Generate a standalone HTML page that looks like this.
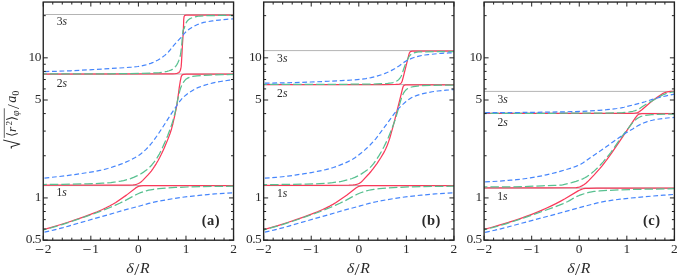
<!DOCTYPE html>
<html><head><meta charset="utf-8"><title>plot</title>
<style>
html,body{margin:0;padding:0;background:#fff;}
body{width:681px;height:277px;overflow:hidden;}
svg{display:block;}
text{font-family:"Liberation Serif","DejaVu Serif",serif;fill:#2a2a2a;}
.tk{font-size:13.4px;}
.it{font-style:italic;}
.lv{font-size:11.6px;font-style:italic;}
.pl{font-size:14.5px;font-weight:bold;}
.xl{font-size:14px;}
</style></head><body>
<svg width="681" height="277" viewBox="0 0 681 277">
<rect width="681" height="277" fill="#fff"/>
<defs>
<clipPath id="c0"><rect x="43.25" y="2.05" width="190.3" height="238.14999999999998"/></clipPath>
<clipPath id="c1"><rect x="263.65" y="2.05" width="190.3" height="238.14999999999998"/></clipPath>
<clipPath id="c2"><rect x="484.1" y="2.05" width="190.3" height="238.14999999999998"/></clipPath>
</defs>
<g>
<line x1="43.25" x2="233.55" y1="14.5" y2="14.5" stroke="#b4b4b4" stroke-width="1"/>
<line x1="43.25" x2="233.55" y1="74.0" y2="74.0" stroke="#b4b4b4" stroke-width="1"/>
<line x1="43.25" x2="233.55" y1="185.6" y2="185.6" stroke="#b4b4b4" stroke-width="1"/>
<path d="M43.30,229.60 L51.41,227.33 L59.20,225.02 L68.10,222.24 L75.81,219.69 L83.19,217.10 L91.09,214.16 L97.25,211.71 L102.48,209.45 L106.02,207.79 L109.52,206.03 L112.70,204.31 L115.81,202.49 L126.44,195.12 L135.71,187.91 L137.78,186.70 L138.61,186.36 L139.77,186.02 L140.96,185.86 L143.37,185.71 L154.19,185.63 L233.60,185.60" fill="none" stroke="#f93a5a" stroke-width="1.25" clip-path="url(#c0)" stroke-linejoin="round"/>
<path d="M43.30,185.20 L106.42,185.20 L128.96,185.09 L133.16,184.89 L134.95,184.61 L136.12,184.35 L137.27,183.98 L138.38,183.53 L139.46,182.96 L140.94,181.98 L142.53,180.61 L147.78,175.18 L149.57,173.14 L151.27,171.04 L152.86,168.87 L154.54,166.37 L156.30,163.56 L157.97,160.69 L159.69,157.54 L161.32,154.32 L162.87,151.05 L164.35,147.76 L168.04,138.87 L170.04,133.51 L171.51,128.94 L172.89,123.72 L174.57,116.38 L175.98,109.61 L176.99,103.99 L177.83,98.35 L179.17,88.21 L180.30,81.09 L181.15,76.94 L181.57,75.83 L182.10,75.05 L182.31,74.86 L182.80,74.60 L183.71,74.33 L186.69,74.23 L233.60,74.20" fill="none" stroke="#f93a5a" stroke-width="1.25" clip-path="url(#c0)" stroke-linejoin="round"/>
<path d="M43.30,74.00 L158.35,73.98 L172.76,73.78 L175.49,73.54 L176.95,73.31 L177.52,73.16 L178.11,72.92 L178.91,72.44 L179.31,72.08 L179.82,71.36 L180.23,70.49 L180.59,69.36 L180.92,67.89 L181.16,66.39 L181.48,62.51 L182.47,44.20 L183.32,31.61 L183.74,19.30 L184.02,16.92 L184.22,16.30 L184.54,15.74 L184.73,15.55 L185.19,15.33 L186.13,15.13 L189.42,15.04 L233.60,15.00" fill="none" stroke="#f93a5a" stroke-width="1.25" clip-path="url(#c0)" stroke-linejoin="round"/>
<path d="M43.30,230.00 L49.68,228.23 L56.04,226.37 L62.08,224.53 L68.10,222.62 L76.09,219.95 L86.34,216.43 L93.15,214.03 L98.80,211.95 L104.12,209.87 L109.98,207.48 L114.96,205.35 L119.63,203.24 L124.77,200.76 L131.90,196.86 L136.45,194.49 L138.62,193.46 L140.57,192.69 L143.69,191.59 L146.30,190.80 L148.63,190.19 L150.69,189.77 L153.65,189.27 L159.03,188.57 L166.52,187.98 L175.54,187.47 L187.27,187.00 L199.30,186.67 L218.86,186.33 L233.60,186.20" fill="none" stroke="#58c090" stroke-width="1.25" stroke-dasharray="8.5 3.0" stroke-dashoffset="5.0" clip-path="url(#c0)" stroke-linejoin="round"/>
<path d="M43.30,184.50 L62.83,184.34 L87.45,183.86 L94.96,183.59 L102.46,183.22 L106.65,182.93 L110.84,182.52 L115.62,181.94 L120.66,181.19 L123.61,180.58 L127.09,179.68 L130.53,178.57 L134.17,177.16 L137.45,175.65 L140.62,173.95 L143.95,171.87 L146.82,169.72 L149.55,167.32 L150.82,166.04 L152.02,164.72 L154.45,161.68 L157.02,157.93 L159.33,154.07 L161.36,150.05 L164.84,142.38 L167.74,135.45 L170.49,128.14 L172.59,121.87 L173.68,118.13 L174.79,113.76 L176.17,107.60 L177.63,100.24 L178.98,94.05 L179.77,90.83 L180.54,88.27 L181.53,85.74 L182.62,83.55 L183.73,81.82 L185.09,80.15 L186.21,79.07 L187.17,78.39 L188.17,77.88 L189.55,77.32 L191.02,76.86 L192.52,76.49 L196.96,75.85 L202.66,75.33 L209.27,75.01 L222.17,74.63 L233.60,74.50" fill="none" stroke="#58c090" stroke-width="1.25" stroke-dasharray="8.5 3.0" stroke-dashoffset="5.0" clip-path="url(#c0)" stroke-linejoin="round"/>
<path d="M43.30,73.90 L109.73,73.76 L128.37,73.64 L142.49,73.45 L152.40,73.04 L156.30,72.82 L159.60,72.54 L162.29,72.22 L164.67,71.84 L167.01,71.33 L169.10,70.76 L170.84,70.15 L172.41,69.40 L173.36,68.78 L174.47,67.75 L175.68,66.31 L176.86,64.59 L177.86,62.73 L178.82,60.49 L179.49,58.51 L180.07,56.48 L180.53,54.42 L180.86,52.35 L181.23,49.37 L181.89,43.08 L182.54,34.18 L182.80,32.14 L183.15,30.20 L183.35,29.68 L183.92,28.94 L184.29,28.13 L185.35,24.65 L185.91,23.28 L186.49,22.20 L187.18,21.15 L187.75,20.44 L188.36,19.84 L189.27,19.15 L190.31,18.52 L191.43,17.97 L192.87,17.41 L194.30,17.02 L196.34,16.56 L198.14,16.25 L199.94,16.01 L204.14,15.77 L210.45,15.58 L224.28,15.36 L233.60,15.30" fill="none" stroke="#58c090" stroke-width="1.25" stroke-dasharray="8.5 3.0" stroke-dashoffset="5.0" clip-path="url(#c0)" stroke-linejoin="round"/>
<path d="M43.30,232.40 L53.26,230.12 L63.16,227.60 L68.65,226.05 L81.34,222.33 L103.32,216.15 L123.22,210.33 L139.78,205.96 L148.75,203.44 L152.25,202.59 L156.36,201.70 L164.92,200.05 L174.10,198.47 L181.24,197.43 L190.48,196.29 L201.24,195.15 L214.71,193.94 L223.70,193.30 L233.60,192.80" fill="none" stroke="#4686fc" stroke-width="1.2" stroke-dasharray="4.8 2.7" stroke-dashoffset="6.3" clip-path="url(#c0)" stroke-linejoin="round"/>
<path d="M43.30,178.20 L58.84,176.54 L67.19,175.53 L74.63,174.54 L81.47,173.55 L90.68,172.11 L96.31,171.13 L101.02,170.19 L104.23,169.46 L107.71,168.51 L114.31,166.44 L118.88,164.92 L122.26,163.67 L125.31,162.42 L128.32,161.05 L131.56,159.45 L134.74,157.75 L137.35,156.24 L139.37,154.94 L141.30,153.52 L143.60,151.58 L146.01,149.33 L148.32,146.95 L150.71,144.25 L153.87,140.24 L157.69,134.85 L161.66,128.83 L171.21,113.89 L174.71,108.64 L179.50,101.69 L180.95,99.78 L182.54,98.02 L184.30,96.37 L186.63,94.44 L188.55,93.01 L190.55,91.67 L193.38,89.97 L195.76,88.66 L197.38,87.87 L199.31,87.07 L201.57,86.24 L204.15,85.40 L207.89,84.27 L210.79,83.48 L213.13,82.92 L216.36,82.25 L220.50,81.51 L224.96,80.81 L229.42,80.19 L233.60,79.70" fill="none" stroke="#4686fc" stroke-width="1.2" stroke-dasharray="4.8 2.7" stroke-dashoffset="6.3" clip-path="url(#c0)" stroke-linejoin="round"/>
<path d="M43.30,71.60 L58.93,71.23 L70.34,70.78 L92.26,69.64 L123.77,67.76 L131.57,67.16 L137.86,66.50 L141.70,65.90 L145.81,64.90 L148.40,64.15 L150.68,63.36 L153.19,62.35 L155.64,61.21 L158.03,59.92 L160.34,58.51 L162.58,56.99 L164.77,55.36 L166.80,53.60 L168.25,52.11 L169.61,50.51 L173.57,45.55 L181.12,37.37 L184.21,33.67 L185.22,32.57 L187.23,30.76 L189.38,29.09 L191.88,27.45 L194.51,25.96 L197.51,24.56 L200.89,23.30 L203.78,22.44 L207.01,21.75 L212.36,20.92 L219.22,20.06 L226.40,19.35 L233.60,18.80" fill="none" stroke="#4686fc" stroke-width="1.2" stroke-dasharray="4.8 2.7" stroke-dashoffset="6.3" clip-path="url(#c0)" stroke-linejoin="round"/>
<path d="M43.25,240.2v-4.5M43.25,2.05v4.5M52.77,240.2v-2.5M52.77,2.05v2.5M62.28,240.2v-2.5M62.28,2.05v2.5M71.80,240.2v-2.5M71.80,2.05v2.5M81.31,240.2v-2.5M81.31,2.05v2.5M90.83,240.2v-4.5M90.83,2.05v4.5M100.34,240.2v-2.5M100.34,2.05v2.5M109.86,240.2v-2.5M109.86,2.05v2.5M119.37,240.2v-2.5M119.37,2.05v2.5M128.88,240.2v-2.5M128.88,2.05v2.5M138.40,240.2v-4.5M138.40,2.05v4.5M147.92,240.2v-2.5M147.92,2.05v2.5M157.43,240.2v-2.5M157.43,2.05v2.5M166.94,240.2v-2.5M166.94,2.05v2.5M176.46,240.2v-2.5M176.46,2.05v2.5M185.97,240.2v-4.5M185.97,2.05v4.5M195.49,240.2v-2.5M195.49,2.05v2.5M205.01,240.2v-2.5M205.01,2.05v2.5M214.52,240.2v-2.5M214.52,2.05v2.5M224.04,240.2v-2.5M224.04,2.05v2.5M233.55,240.2v-4.5M233.55,2.05v4.5M43.25,240.10h4.5M233.55,240.10h-4.5M43.25,229.01h2.5M233.55,229.01h-2.5M43.25,219.63h2.5M233.55,219.63h-2.5M43.25,211.50h2.5M233.55,211.50h-2.5M43.25,204.34h2.5M233.55,204.34h-2.5M43.25,197.93h4.5M233.55,197.93h-4.5M43.25,155.75h2.5M233.55,155.75h-2.5M43.25,131.08h2.5M233.55,131.08h-2.5M43.25,113.58h2.5M233.55,113.58h-2.5M43.25,100.00h4.5M233.55,100.00h-4.5M43.25,88.91h2.5M233.55,88.91h-2.5M43.25,79.53h2.5M233.55,79.53h-2.5M43.25,71.40h2.5M233.55,71.40h-2.5M43.25,64.24h2.5M233.55,64.24h-2.5M43.25,57.83h4.5M233.55,57.83h-4.5M43.25,15.65h2.5M233.55,15.65h-2.5" stroke="#222" stroke-width="1.0" fill="none"/>
<rect x="43.25" y="2.05" width="190.3" height="238.14999999999998" fill="none" stroke="#222" stroke-width="1.35"/>
<text class="tk" x="43.2" y="253.3" text-anchor="middle"><tspan font-size="16" dy="1.9">−</tspan><tspan dy="-1.9" dx="0.7">2</tspan></text>
<text class="tk" x="90.8" y="253.3" text-anchor="middle"><tspan font-size="16" dy="1.9">−</tspan><tspan dy="-1.9" dx="0.7">1</tspan></text>
<text class="tk" x="138.4" y="253.3" text-anchor="middle">0</text>
<text class="tk" x="186.0" y="253.3" text-anchor="middle">1</text>
<text class="tk" x="233.6" y="253.3" text-anchor="middle">2</text>
<text class="tk" x="40.9" y="242.9" text-anchor="end" style="letter-spacing:-0.55px">0.5</text>
<text class="tk" x="40.9" y="200.7" text-anchor="end" style="letter-spacing:-0.55px">1</text>
<text class="tk" x="40.9" y="102.8" text-anchor="end" style="letter-spacing:-0.55px">5</text>
<text class="tk" x="40.9" y="60.6" text-anchor="end" style="letter-spacing:-0.55px">10</text>
<text class="xl" transform="translate(138.2,273.4) scale(1.13,1)" text-anchor="middle" style="letter-spacing:0.5px"><tspan class="it">δ</tspan><tspan font-size="16.5" dy="1.6">/</tspan><tspan class="it" dy="-1.6">R</tspan></text>
<text class="lv" x="56.7" y="25.4"><tspan style="font-style:normal">3</tspan>s</text>
<text class="lv" x="56.7" y="86.5"><tspan style="font-style:normal">2</tspan>s</text>
<text class="lv" x="56.5" y="196.4"><tspan style="font-style:normal">1</tspan>s</text>
<text class="pl" x="211.0" y="225.1" text-anchor="middle" style="letter-spacing:0.5px">(a)</text>
</g>
<g>
<line x1="263.65" x2="453.95" y1="50.6" y2="50.6" stroke="#b4b4b4" stroke-width="1"/>
<line x1="263.65" x2="453.95" y1="84.6" y2="84.6" stroke="#b4b4b4" stroke-width="1"/>
<line x1="263.65" x2="453.95" y1="185.6" y2="185.6" stroke="#b4b4b4" stroke-width="1"/>
<path d="M263.60,229.60 L271.70,227.33 L279.48,225.03 L288.37,222.25 L296.08,219.71 L303.44,217.11 L311.34,214.18 L317.49,211.73 L322.72,209.47 L326.26,207.82 L329.76,206.07 L332.94,204.35 L336.04,202.53 L346.66,195.17 L355.92,187.97 L357.98,186.74 L358.81,186.40 L359.68,186.17 L361.46,185.89 L363.26,185.72 L370.76,185.65 L454.00,185.60" fill="none" stroke="#f93a5a" stroke-width="1.25" clip-path="url(#c1)" stroke-linejoin="round"/>
<path d="M263.60,185.30 L326.38,185.30 L348.91,185.19 L353.11,184.99 L355.20,184.71 L356.37,184.47 L357.24,184.20 L358.36,183.77 L359.18,183.37 L360.21,182.76 L360.92,182.25 L361.82,181.48 L362.89,180.41 L369.02,173.74 L371.17,171.23 L373.04,168.88 L377.11,163.29 L380.59,158.03 L383.68,152.88 L384.95,150.49 L385.99,148.33 L387.27,145.28 L388.52,141.90 L389.65,138.48 L390.93,134.16 L393.07,126.34 L395.33,117.61 L399.57,100.71 L402.40,89.03 L403.10,86.72 L403.36,86.20 L403.73,85.68 L404.18,85.31 L405.32,84.97 L405.94,84.90 L408.32,84.85 L414.35,84.80 L454.00,84.80" fill="none" stroke="#f93a5a" stroke-width="1.25" clip-path="url(#c1)" stroke-linejoin="round"/>
<path d="M263.60,84.50 L382.99,84.50 L395.63,84.39 L397.76,84.30 L399.22,84.16 L400.09,83.82 L400.59,83.51 L401.03,83.12 L401.42,82.63 L401.74,82.11 L402.19,81.03 L403.52,76.06 L408.62,55.63 L409.20,53.58 L409.52,52.75 L410.02,51.98 L410.47,51.57 L411.27,51.28 L412.19,51.12 L416.09,51.02 L454.00,51.00" fill="none" stroke="#f93a5a" stroke-width="1.25" clip-path="url(#c1)" stroke-linejoin="round"/>
<path d="M263.60,230.00 L276.32,226.38 L282.36,224.54 L288.37,222.62 L296.36,219.97 L306.59,216.45 L313.40,214.04 L319.04,211.97 L324.36,209.90 L330.21,207.51 L335.19,205.38 L339.85,203.28 L344.98,200.81 L352.11,196.91 L356.65,194.54 L358.82,193.50 L360.76,192.73 L363.88,191.64 L366.49,190.84 L368.82,190.25 L370.88,189.83 L373.83,189.34 L379.52,188.63 L388.20,187.93 L397.51,187.39 L408.32,186.97 L420.04,186.65 L439.27,186.33 L454.00,186.20" fill="none" stroke="#58c090" stroke-width="1.25" stroke-dasharray="8.5 3.0" stroke-dashoffset="5.0" clip-path="url(#c1)" stroke-linejoin="round"/>
<path d="M263.60,184.60 L282.54,184.48 L306.28,184.11 L319.80,183.65 L324.60,183.39 L328.50,183.08 L332.40,182.67 L336.58,182.13 L341.32,181.40 L343.37,180.97 L348.90,179.49 L352.06,178.49 L354.85,177.39 L358.10,175.82 L359.94,174.82 L361.49,173.89 L364.99,171.53 L367.16,169.91 L368.82,168.58 L370.19,167.39 L371.46,166.15 L373.59,163.67 L375.72,160.74 L379.17,155.41 L381.29,151.77 L383.83,147.00 L386.22,142.14 L388.34,137.49 L390.17,133.04 L393.85,123.50 L395.25,119.54 L396.73,114.65 L400.54,101.01 L401.55,97.88 L402.78,94.75 L403.72,92.79 L404.66,91.32 L405.81,90.07 L406.75,89.27 L407.79,88.54 L408.89,87.93 L409.98,87.47 L411.65,87.00 L413.40,86.60 L415.21,86.28 L417.34,86.01 L422.73,85.65 L429.95,85.38 L444.08,85.09 L454.00,85.00" fill="none" stroke="#58c090" stroke-width="1.25" stroke-dasharray="8.5 3.0" stroke-dashoffset="5.0" clip-path="url(#c1)" stroke-linejoin="round"/>
<path d="M263.60,84.40 L341.74,84.30 L370.00,84.10 L376.91,83.95 L383.53,83.67 L387.76,83.35 L391.59,82.87 L393.05,82.53 L394.52,82.03 L395.93,81.40 L397.24,80.69 L397.95,80.22 L398.62,79.63 L399.44,78.71 L400.36,77.51 L401.18,76.23 L401.80,74.89 L402.29,73.48 L403.33,70.00 L404.83,65.74 L406.16,62.39 L407.42,59.66 L408.68,57.24 L409.68,55.77 L410.28,55.08 L410.93,54.44 L411.64,53.91 L412.42,53.45 L413.54,52.99 L415.86,52.31 L417.05,52.08 L418.53,51.97 L433.86,51.61 L454.00,51.50" fill="none" stroke="#58c090" stroke-width="1.25" stroke-dasharray="8.5 3.0" stroke-dashoffset="5.0" clip-path="url(#c1)" stroke-linejoin="round"/>
<path d="M263.60,232.40 L273.57,230.11 L283.47,227.60 L288.96,226.05 L301.66,222.33 L323.65,216.14 L343.56,210.32 L360.13,205.95 L369.11,203.42 L372.32,202.65 L376.43,201.75 L385.58,199.98 L394.47,198.43 L401.31,197.42 L410.26,196.31 L421.32,195.14 L435.09,193.91 L444.09,193.28 L454.00,192.80" fill="none" stroke="#4686fc" stroke-width="1.2" stroke-dasharray="4.8 2.7" stroke-dashoffset="6.3" clip-path="url(#c1)" stroke-linejoin="round"/>
<path d="M263.60,178.30 L269.60,177.90 L275.90,177.38 L282.47,176.74 L287.85,176.10 L295.00,175.12 L304.51,173.68 L311.34,172.54 L317.25,171.45 L321.96,170.48 L325.77,169.61 L329.55,168.62 L333.30,167.51 L336.43,166.45 L339.81,165.18 L344.26,163.36 L347.57,161.91 L350.26,160.56 L352.60,159.22 L355.39,157.42 L358.08,155.52 L361.16,153.09 L364.60,150.18 L367.50,147.55 L370.07,145.03 L373.77,141.07 L375.53,139.02 L377.03,137.15 L386.90,123.87 L392.49,116.04 L394.83,112.91 L396.53,110.80 L399.14,107.89 L401.50,105.57 L406.05,101.54 L407.72,100.20 L409.44,98.96 L410.94,98.02 L412.23,97.33 L414.10,96.49 L416.34,95.63 L418.66,94.86 L421.29,94.10 L424.20,93.35 L427.13,92.69 L432.17,91.76 L437.82,91.00 L446.20,90.18 L454.00,89.60" fill="none" stroke="#4686fc" stroke-width="1.2" stroke-dasharray="4.8 2.7" stroke-dashoffset="6.3" clip-path="url(#c1)" stroke-linejoin="round"/>
<path d="M263.60,83.20 L280.14,82.92 L300.89,82.37 L310.81,82.02 L328.55,81.25 L341.17,80.64 L354.09,79.88 L360.68,79.33 L365.75,78.65 L371.07,77.68 L375.45,76.59 L382.06,74.51 L384.61,73.58 L387.11,72.56 L391.20,70.64 L394.61,68.75 L399.42,65.65 L404.31,62.11 L406.89,60.60 L409.05,59.51 L410.98,58.65 L413.22,57.80 L415.80,56.97 L419.00,56.13 L422.24,55.43 L424.91,55.00 L428.19,54.60 L437.78,53.65 L441.98,53.31 L448.59,52.96 L454.00,52.80" fill="none" stroke="#4686fc" stroke-width="1.2" stroke-dasharray="4.8 2.7" stroke-dashoffset="6.3" clip-path="url(#c1)" stroke-linejoin="round"/>
<path d="M263.65,240.2v-4.5M263.65,2.05v4.5M273.16,240.2v-2.5M273.16,2.05v2.5M282.68,240.2v-2.5M282.68,2.05v2.5M292.19,240.2v-2.5M292.19,2.05v2.5M301.71,240.2v-2.5M301.71,2.05v2.5M311.22,240.2v-4.5M311.22,2.05v4.5M320.74,240.2v-2.5M320.74,2.05v2.5M330.25,240.2v-2.5M330.25,2.05v2.5M339.77,240.2v-2.5M339.77,2.05v2.5M349.28,240.2v-2.5M349.28,2.05v2.5M358.80,240.2v-4.5M358.80,2.05v4.5M368.31,240.2v-2.5M368.31,2.05v2.5M377.83,240.2v-2.5M377.83,2.05v2.5M387.34,240.2v-2.5M387.34,2.05v2.5M396.86,240.2v-2.5M396.86,2.05v2.5M406.38,240.2v-4.5M406.38,2.05v4.5M415.89,240.2v-2.5M415.89,2.05v2.5M425.40,240.2v-2.5M425.40,2.05v2.5M434.92,240.2v-2.5M434.92,2.05v2.5M444.44,240.2v-2.5M444.44,2.05v2.5M453.95,240.2v-4.5M453.95,2.05v4.5M263.65,240.10h4.5M453.95,240.10h-4.5M263.65,229.01h2.5M453.95,229.01h-2.5M263.65,219.63h2.5M453.95,219.63h-2.5M263.65,211.50h2.5M453.95,211.50h-2.5M263.65,204.34h2.5M453.95,204.34h-2.5M263.65,197.93h4.5M453.95,197.93h-4.5M263.65,155.75h2.5M453.95,155.75h-2.5M263.65,131.08h2.5M453.95,131.08h-2.5M263.65,113.58h2.5M453.95,113.58h-2.5M263.65,100.00h4.5M453.95,100.00h-4.5M263.65,88.91h2.5M453.95,88.91h-2.5M263.65,79.53h2.5M453.95,79.53h-2.5M263.65,71.40h2.5M453.95,71.40h-2.5M263.65,64.24h2.5M453.95,64.24h-2.5M263.65,57.83h4.5M453.95,57.83h-4.5M263.65,15.65h2.5M453.95,15.65h-2.5" stroke="#222" stroke-width="1.0" fill="none"/>
<rect x="263.65" y="2.05" width="190.3" height="238.14999999999998" fill="none" stroke="#222" stroke-width="1.35"/>
<text class="tk" x="263.6" y="253.3" text-anchor="middle"><tspan font-size="16" dy="1.9">−</tspan><tspan dy="-1.9" dx="0.7">2</tspan></text>
<text class="tk" x="311.2" y="253.3" text-anchor="middle"><tspan font-size="16" dy="1.9">−</tspan><tspan dy="-1.9" dx="0.7">1</tspan></text>
<text class="tk" x="358.8" y="253.3" text-anchor="middle">0</text>
<text class="tk" x="406.4" y="253.3" text-anchor="middle">1</text>
<text class="tk" x="453.9" y="253.3" text-anchor="middle">2</text>
<text class="tk" x="261.2" y="242.9" text-anchor="end" style="letter-spacing:-0.55px">0.5</text>
<text class="tk" x="261.2" y="200.7" text-anchor="end" style="letter-spacing:-0.55px">1</text>
<text class="tk" x="261.2" y="102.8" text-anchor="end" style="letter-spacing:-0.55px">5</text>
<text class="tk" x="261.2" y="60.6" text-anchor="end" style="letter-spacing:-0.55px">10</text>
<text class="xl" transform="translate(358.6,273.4) scale(1.13,1)" text-anchor="middle" style="letter-spacing:0.5px"><tspan class="it">δ</tspan><tspan font-size="16.5" dy="1.6">/</tspan><tspan class="it" dy="-1.6">R</tspan></text>
<text class="lv" x="277.1" y="62.3"><tspan style="font-style:normal">3</tspan>s</text>
<text class="lv" x="277.1" y="96.6"><tspan style="font-style:normal">2</tspan>s</text>
<text class="lv" x="276.9" y="197.0"><tspan style="font-style:normal">1</tspan>s</text>
<text class="pl" x="431.3" y="225.1" text-anchor="middle" style="letter-spacing:0.5px">(b)</text>
</g>
<g>
<line x1="484.1" x2="674.4000000000001" y1="91.4" y2="91.4" stroke="#b4b4b4" stroke-width="1"/>
<line x1="484.1" x2="674.4000000000001" y1="113.4" y2="113.4" stroke="#b4b4b4" stroke-width="1"/>
<line x1="484.1" x2="674.4000000000001" y1="188.1" y2="188.1" stroke="#b4b4b4" stroke-width="1"/>
<path d="M483.90,229.50 L491.15,227.52 L498.38,225.45 L507.02,222.84 L514.19,220.57 L520.17,218.57 L526.12,216.45 L531.76,214.33 L537.35,212.10 L542.06,210.12 L546.72,208.05 L551.35,205.87 L555.93,203.59 L560.74,201.09 L564.96,198.80 L578.14,190.90 L579.47,190.23 L581.41,189.41 L582.56,188.98 L583.42,188.73 L585.48,188.47 L588.49,188.26 L596.92,188.14 L674.50,188.10" fill="none" stroke="#f93a5a" stroke-width="1.25" clip-path="url(#c2)" stroke-linejoin="round"/>
<path d="M483.90,187.90 L543.72,187.90 L573.20,187.75 L576.18,187.69 L576.78,187.62 L578.83,187.11 L579.96,186.72 L581.88,185.84 L584.22,184.46 L585.90,183.23 L587.47,181.84 L589.39,179.92 L593.94,175.11 L599.77,168.61 L602.09,165.85 L606.67,159.90 L611.57,153.05 L622.81,136.71 L635.53,117.71 L636.79,116.03 L637.59,115.13 L638.03,114.72 L638.79,114.23 L639.35,114.01 L640.52,113.80 L641.73,113.70 L674.50,113.70" fill="none" stroke="#f93a5a" stroke-width="1.25" clip-path="url(#c2)" stroke-linejoin="round"/>
<path d="M483.90,113.40 L621.54,113.40 L632.95,113.30 L634.75,113.17 L636.54,112.90 L637.69,112.57 L638.51,112.18 L639.53,111.55 L641.90,109.70 L649.68,103.07 L652.72,100.62 L657.57,97.07 L662.07,94.03 L663.09,93.40 L663.89,93.01 L665.57,92.35 L666.73,92.00 L667.61,91.81 L670.29,91.48 L674.50,91.40" fill="none" stroke="#f93a5a" stroke-width="1.25" clip-path="url(#c2)" stroke-linejoin="round"/>
<path d="M483.90,229.90 L495.24,226.91 L501.02,225.27 L505.91,223.79 L512.21,221.78 L520.49,219.04 L533.84,214.42 L554.50,207.01 L558.72,205.42 L562.62,203.85 L565.38,202.66 L567.83,201.50 L569.42,200.65 L572.23,198.91 L574.34,197.76 L577.04,196.41 L579.24,195.46 L581.49,194.62 L584.06,193.77 L587.82,192.67 L590.15,192.07 L591.62,191.80 L594.00,191.48 L599.69,190.96 L607.80,190.44 L618.91,189.91 L628.82,189.58 L641.14,189.28 L674.50,188.70" fill="none" stroke="#58c090" stroke-width="1.25" stroke-dasharray="8.5 3.0" stroke-dashoffset="5.0" clip-path="url(#c2)" stroke-linejoin="round"/>
<path d="M483.90,187.00 L501.94,186.92 L522.07,186.66 L528.38,186.45 L542.19,185.82 L554.53,185.47 L559.91,185.21 L561.10,185.08 L562.57,184.80 L571.66,182.65 L575.99,181.40 L579.96,180.00 L582.75,178.85 L584.91,177.81 L586.97,176.61 L588.96,175.23 L592.06,172.83 L594.34,170.88 L597.62,167.78 L600.34,164.97 L602.95,162.06 L605.67,158.86 L608.32,155.58 L610.90,152.26 L613.91,148.13 L619.34,140.18 L621.59,136.99 L624.82,132.65 L630.33,125.51 L631.66,123.88 L634.30,120.94 L635.38,119.89 L636.53,118.98 L638.03,118.00 L639.36,117.23 L640.47,116.69 L641.60,116.24 L642.45,115.98 L643.87,115.68 L647.72,115.07 L651.66,114.68 L657.66,114.42 L666.36,114.18 L674.50,114.10" fill="none" stroke="#58c090" stroke-width="1.25" stroke-dasharray="8.5 3.0" stroke-dashoffset="5.0" clip-path="url(#c2)" stroke-linejoin="round"/>
<path d="M483.90,113.30 L552.76,113.25 L595.16,113.13 L616.21,112.89 L622.51,112.66 L626.12,112.35 L629.41,111.90 L632.94,111.27 L635.28,110.62 L637.55,109.77 L638.63,109.29 L639.40,108.85 L642.54,106.48 L645.34,104.73 L653.73,100.00 L659.45,96.59 L661.83,95.33 L663.19,94.71 L664.85,94.05 L666.56,93.45 L668.29,92.91 L669.75,92.55 L671.51,92.21 L674.50,91.80" fill="none" stroke="#58c090" stroke-width="1.25" stroke-dasharray="8.5 3.0" stroke-dashoffset="5.0" clip-path="url(#c2)" stroke-linejoin="round"/>
<path d="M483.90,232.60 L495.08,230.18 L505.30,227.69 L521.27,223.34 L560.80,212.79 L584.89,206.18 L596.53,203.10 L600.33,202.21 L605.95,201.20 L612.49,200.20 L620.26,199.19 L628.03,198.30 L637.61,197.37 L652.00,196.10 L663.69,195.17 L674.50,194.40" fill="none" stroke="#4686fc" stroke-width="1.2" stroke-dasharray="4.8 2.7" stroke-dashoffset="6.3" clip-path="url(#c2)" stroke-linejoin="round"/>
<path d="M483.90,182.00 L497.12,181.26 L510.92,180.21 L516.61,179.67 L521.98,179.08 L526.16,178.53 L530.32,177.90 L535.67,176.98 L541.87,175.79 L546.28,174.86 L550.68,173.84 L555.64,172.57 L560.86,171.13 L568.09,168.99 L572.43,167.61 L575.84,166.38 L578.59,165.25 L580.72,164.24 L582.77,163.04 L584.76,161.68 L589.91,157.91 L600.88,150.51 L612.89,141.96 L625.77,133.08 L628.05,131.63 L632.74,128.92 L637.35,126.06 L640.53,124.38 L643.54,122.99 L646.63,121.83 L650.09,120.78 L653.60,119.96 L657.46,119.27 L664.60,118.29 L669.69,117.74 L674.50,117.40" fill="none" stroke="#4686fc" stroke-width="1.2" stroke-dasharray="4.8 2.7" stroke-dashoffset="6.3" clip-path="url(#c2)" stroke-linejoin="round"/>
<path d="M483.90,112.70 L504.06,112.62 L528.72,112.41 L548.28,112.12 L570.53,111.68 L580.76,111.37 L588.27,111.03 L599.08,110.33 L606.57,109.71 L611.96,109.14 L616.74,108.52 L621.19,107.81 L624.13,107.22 L642.21,102.57 L645.09,101.71 L652.24,99.38 L658.33,97.71 L662.13,96.76 L666.23,95.84 L670.36,94.98 L674.50,94.20" fill="none" stroke="#4686fc" stroke-width="1.2" stroke-dasharray="4.8 2.7" stroke-dashoffset="6.3" clip-path="url(#c2)" stroke-linejoin="round"/>
<path d="M484.10,240.2v-4.5M484.10,2.05v4.5M493.62,240.2v-2.5M493.62,2.05v2.5M503.13,240.2v-2.5M503.13,2.05v2.5M512.64,240.2v-2.5M512.64,2.05v2.5M522.16,240.2v-2.5M522.16,2.05v2.5M531.68,240.2v-4.5M531.68,2.05v4.5M541.19,240.2v-2.5M541.19,2.05v2.5M550.71,240.2v-2.5M550.71,2.05v2.5M560.22,240.2v-2.5M560.22,2.05v2.5M569.74,240.2v-2.5M569.74,2.05v2.5M579.25,240.2v-4.5M579.25,2.05v4.5M588.76,240.2v-2.5M588.76,2.05v2.5M598.28,240.2v-2.5M598.28,2.05v2.5M607.80,240.2v-2.5M607.80,2.05v2.5M617.31,240.2v-2.5M617.31,2.05v2.5M626.83,240.2v-4.5M626.83,2.05v4.5M636.34,240.2v-2.5M636.34,2.05v2.5M645.86,240.2v-2.5M645.86,2.05v2.5M655.37,240.2v-2.5M655.37,2.05v2.5M664.88,240.2v-2.5M664.88,2.05v2.5M674.40,240.2v-4.5M674.40,2.05v4.5M484.1,240.10h4.5M674.4000000000001,240.10h-4.5M484.1,229.01h2.5M674.4000000000001,229.01h-2.5M484.1,219.63h2.5M674.4000000000001,219.63h-2.5M484.1,211.50h2.5M674.4000000000001,211.50h-2.5M484.1,204.34h2.5M674.4000000000001,204.34h-2.5M484.1,197.93h4.5M674.4000000000001,197.93h-4.5M484.1,155.75h2.5M674.4000000000001,155.75h-2.5M484.1,131.08h2.5M674.4000000000001,131.08h-2.5M484.1,113.58h2.5M674.4000000000001,113.58h-2.5M484.1,100.00h4.5M674.4000000000001,100.00h-4.5M484.1,88.91h2.5M674.4000000000001,88.91h-2.5M484.1,79.53h2.5M674.4000000000001,79.53h-2.5M484.1,71.40h2.5M674.4000000000001,71.40h-2.5M484.1,64.24h2.5M674.4000000000001,64.24h-2.5M484.1,57.83h4.5M674.4000000000001,57.83h-4.5M484.1,15.65h2.5M674.4000000000001,15.65h-2.5" stroke="#222" stroke-width="1.0" fill="none"/>
<rect x="484.1" y="2.05" width="190.3" height="238.14999999999998" fill="none" stroke="#222" stroke-width="1.35"/>
<text class="tk" x="484.1" y="253.3" text-anchor="middle"><tspan font-size="16" dy="1.9">−</tspan><tspan dy="-1.9" dx="0.7">2</tspan></text>
<text class="tk" x="531.7" y="253.3" text-anchor="middle"><tspan font-size="16" dy="1.9">−</tspan><tspan dy="-1.9" dx="0.7">1</tspan></text>
<text class="tk" x="579.2" y="253.3" text-anchor="middle">0</text>
<text class="tk" x="626.8" y="253.3" text-anchor="middle">1</text>
<text class="tk" x="674.4" y="253.3" text-anchor="middle">2</text>
<text class="tk" x="481.7" y="242.9" text-anchor="end" style="letter-spacing:-0.55px">0.5</text>
<text class="tk" x="481.7" y="200.7" text-anchor="end" style="letter-spacing:-0.55px">1</text>
<text class="tk" x="481.7" y="102.8" text-anchor="end" style="letter-spacing:-0.55px">5</text>
<text class="tk" x="481.7" y="60.6" text-anchor="end" style="letter-spacing:-0.55px">10</text>
<text class="xl" transform="translate(579.1,273.4) scale(1.13,1)" text-anchor="middle" style="letter-spacing:0.5px"><tspan class="it">δ</tspan><tspan font-size="16.5" dy="1.6">/</tspan><tspan class="it" dy="-1.6">R</tspan></text>
<text class="lv" x="497.5" y="103.0"><tspan style="font-style:normal">3</tspan>s</text>
<text class="lv" x="497.5" y="126.0"><tspan style="font-style:normal">2</tspan>s</text>
<text class="lv" x="497.3" y="199.7"><tspan style="font-style:normal">1</tspan>s</text>
<text class="pl" x="651.8" y="225.1" text-anchor="middle" style="letter-spacing:0.5px">(c)</text>
</g>
<g transform="translate(16.0,148.3) rotate(-90)">
<text transform="translate(-0.8,4.4) scale(1.0,1.22)" font-size="17.5" style="font-family:'DejaVu Sans Light','DejaVu Sans',sans-serif;font-weight:200">√</text>
<line x1="10.4" x2="40" y1="-11.7" y2="-11.7" stroke="#222" stroke-width="0.7"/>
<text x="11.4" y="0.4" font-size="12.8" style="font-family:'DejaVu Sans Light','DejaVu Sans',sans-serif;font-weight:200">⟨</text>
<text x="16.4" y="0" font-size="13.5" class="it">r</text>
<text x="22.8" y="-4.3" font-size="9">2</text>
<text x="27.6" y="0.4" font-size="12.8" style="font-family:'DejaVu Sans Light','DejaVu Sans',sans-serif;font-weight:200">⟩</text>
<text x="32.4" y="2.9" font-size="10" class="it">φ</text>
<text x="39.4" y="2.8" font-size="17">/</text>
<text x="45.6" y="0" font-size="14" class="it">a</text>
<text x="52.8" y="2.9" font-size="9.5">0</text>
</g>
</svg></body></html>
